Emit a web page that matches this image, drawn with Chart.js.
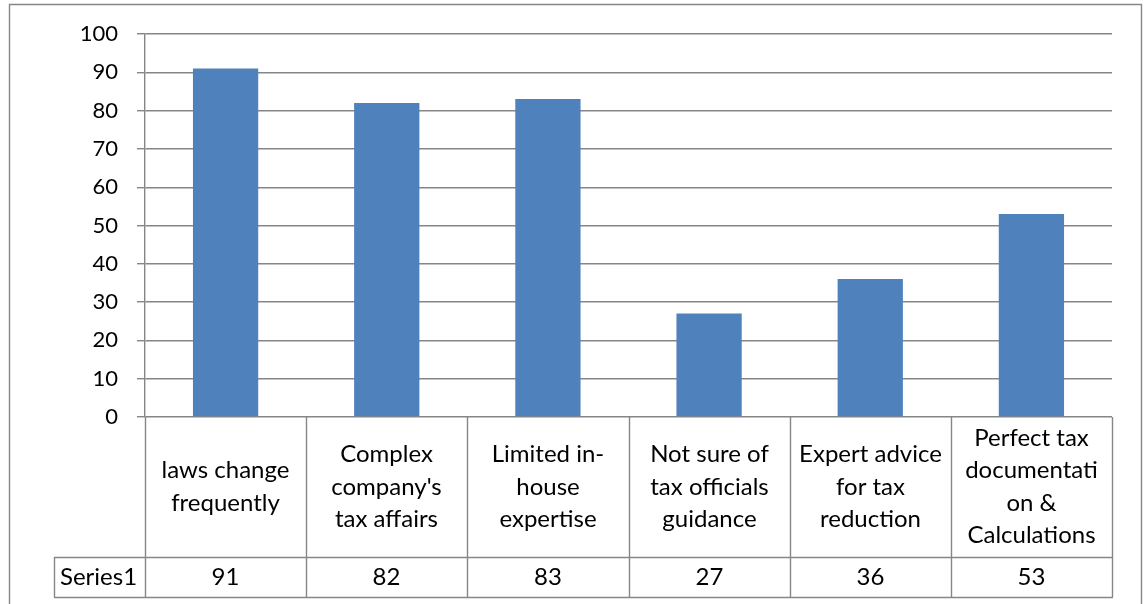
<!DOCTYPE html>
<html>
<head>
<meta charset="utf-8">
<script src="https://cdn.jsdelivr.net/npm/chart.js@4/dist/chart.umd.min.js"></script>
<style>
  html, body { margin: 0; padding: 0; background: #ffffff; }
  #wrap { width: 1146px; height: 604px; position: relative; }
</style>
</head>
<body>
<div id="wrap"><canvas id="c" width="1146" height="604"></canvas></div>
<script>
// Category labels (pre-wrapped lines as shown in the data table)
const categories = [
  ["laws change", "frequently"],
  ["Complex", "company's", "tax affairs"],
  ["Limited in-", "house", "expertise"],
  ["Not sure of", "tax officials", "guidance"],
  ["Expert advice", "for tax", "reduction"],
  ["Perfect tax", "documentati", "on &", "Calculations"]
];
const seriesName = "Series1";
const seriesValues = [91, 82, 83, 27, 36, 53];
const yTicks = [0, 10, 20, 30, 40, 50, 60, 70, 80, 90, 100];

const FONT = "Lato, 'Open Sans', sans-serif";
const GRID = "#868686";
const TXT = "#000000";
const LINE_W = 1.4;

// Draws the outer frame and the data table beneath the plot
const dataTablePlugin = {
  id: "dataTable",
  afterDraw(chart) {
    const ctx = chart.ctx;
    const x = chart.scales.x;
    const area = chart.chartArea;
    const n = categories.length;
    const top = area.bottom;
    const rowSplit = top + 140;
    const bottom = rowSplit + 40;
    const headLeft = 54;

    // cell edges from the category scale
    const edges = [x.left];
    for (let i = 0; i < n - 1; i++) {
      edges.push(Math.round((x.getPixelForValue(i) + x.getPixelForValue(i + 1)) / 2));
    }
    edges.push(x.right);

    ctx.save();
    ctx.strokeStyle = GRID;
    ctx.lineWidth = LINE_W;
    ctx.beginPath();
    // verticals
    edges.forEach(e => { ctx.moveTo(Math.round(e) + 0.5, top); ctx.lineTo(Math.round(e) + 0.5, bottom); });
    ctx.moveTo(headLeft + 0.5, rowSplit); ctx.lineTo(headLeft + 0.5, bottom);
    // horizontals
    ctx.moveTo(headLeft, rowSplit + 0.5); ctx.lineTo(x.right + 1, rowSplit + 0.5);
    ctx.moveTo(headLeft, bottom + 0.5); ctx.lineTo(x.right + 1, bottom + 0.5);
    ctx.stroke();

    // outer frame
    ctx.beginPath();
    ctx.moveTo(9.5, 604); ctx.lineTo(9.5, 4.5); ctx.lineTo(1141.5, 4.5); ctx.lineTo(1141.5, 604);
    ctx.stroke();

    // text
    ctx.fillStyle = TXT;
    ctx.font = "24px " + FONT;
    ctx.textBaseline = "middle";
    ctx.textAlign = "center";
    const lh = 32.5;
    const midHead = (top + rowSplit) / 2;
    categories.forEach((lines, i) => {
      const cx = (edges[i] + edges[i + 1]) / 2;
      const y0 = midHead - (lines.length - 1) * lh / 2;
      lines.forEach((ln, j) => ctx.fillText(ln, cx, y0 + j * lh));
      ctx.fillText(String(seriesValues[i]), cx, (rowSplit + bottom) / 2);
    });
    ctx.textAlign = "left";
    ctx.fillText(seriesName, headLeft + 6, (rowSplit + bottom) / 2);
    ctx.restore();
  }
};

new Chart(document.getElementById("c"), {
  type: "bar",
  data: {
    labels: categories,
    datasets: [{
      label: seriesName,
      data: seriesValues,
      backgroundColor: "#4F81BD",
      borderWidth: 0,
      barPercentage: 0.5,
      categoryPercentage: 0.81
    }]
  },
  options: {
    responsive: false,
    animation: false,
    devicePixelRatio: 1,
    layout: { padding: { left: 0, top: 34, right: 34, bottom: 187 } },
    plugins: { legend: { display: false }, tooltip: { enabled: false } },
    scales: {
      x: { display: false, offset: true },
      y: {
        min: 0, max: 100,
        afterBuildTicks(scale) { scale.ticks = yTicks.map(v => ({ value: v })); },
        afterFit(scale) { scale.width = 145; },
        ticks: { color: TXT, font: { family: FONT, size: 22 }, padding: 19 },
        grid: { color: GRID, lineWidth: LINE_W, tickLength: 8 },
        border: { color: GRID, width: LINE_W }
      }
    }
  },
  plugins: [dataTablePlugin]
});
</script>
</body>
</html>
